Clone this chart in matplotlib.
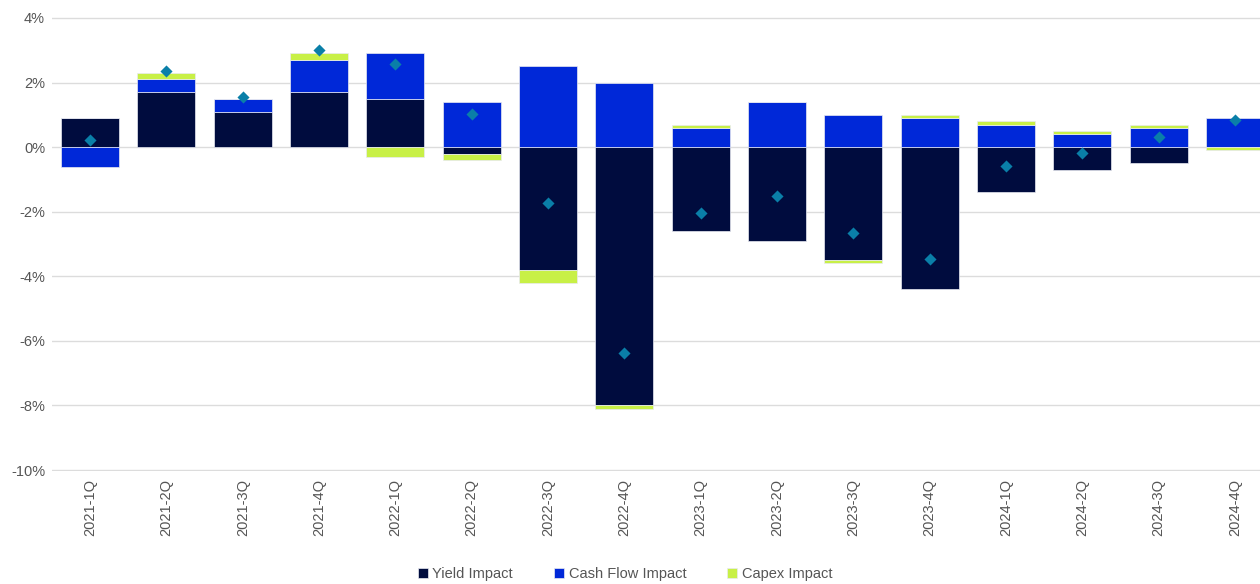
import numpy as np
import matplotlib.pyplot as plt
from matplotlib.ticker import FuncFormatter

quarters = ['2021-1Q', '2021-2Q', '2021-3Q', '2021-4Q',
            '2022-1Q', '2022-2Q', '2022-3Q', '2022-4Q',
            '2023-1Q', '2023-2Q', '2023-3Q', '2023-4Q',
            '2024-1Q', '2024-2Q', '2024-3Q', '2024-4Q']

yield_impact = [0.9, 1.7, 1.1, 1.7, 1.5, -0.2, -3.8, -8.0,
                -2.6, -2.9, -3.5, -4.4, -1.4, -0.7, -0.5, 0.0]
cashflow_impact = [-0.6, 0.4, 0.4, 1.0, 1.4, 1.4, 2.5, 2.0,
                   0.6, 1.4, 1.0, 0.9, 0.7, 0.4, 0.6, 0.9]
capex_impact = [0.0, 0.2, 0.0, 0.2, -0.3, -0.2, -0.4, -0.1,
                0.1, 0.0, -0.1, 0.1, 0.1, 0.1, 0.1, -0.1]
total = [0.22, 2.36, 1.55, 3.0, 2.58, 1.02, -1.74, -6.37,
         -2.05, -1.52, -2.67, -3.48, -0.59, -0.19, 0.32, 0.83]

c_yield = '#000C3E'
c_cf = '#0028D8'
c_capex = '#C8F046'
c_total = '#0A7FA8'
grey = '#555555'

plt.rcParams['font.family'] = ['Liberation Sans', 'DejaVu Sans']

fig = plt.figure(figsize=(12.6, 5.84), dpi=100)
ax = fig.add_axes([52 / 1260, 1 - 471 / 584, 1221 / 1260, 454 / 584])

x = np.arange(len(quarters))
w = 0.76

# stack positives up and negatives down separately
pos_base = np.zeros(len(x))
neg_base = np.zeros(len(x))
for vals, col, lab in [(yield_impact, c_yield, 'Yield Impact'),
                       (cashflow_impact, c_cf, 'Cash Flow Impact'),
                       (capex_impact, c_capex, 'Capex Impact')]:
    v = np.array(vals)
    bottom = np.where(v >= 0, pos_base, neg_base)
    ax.bar(x, v, w, bottom=bottom, color=col, label=lab,
           edgecolor='#E8EAF2', linewidth=0.5, zorder=2)
    pos_base = pos_base + np.where(v > 0, v, 0)
    neg_base = neg_base + np.where(v < 0, v, 0)

ax.scatter(x, total, marker='D', s=38, color=c_total, zorder=3, linewidths=0)

ax.set_xlim(-0.5, len(quarters) - 0.5)
ax.set_ylim(-10.03, 4.03)
ax.set_yticks(np.arange(-10, 5, 2))
ax.yaxis.set_major_formatter(FuncFormatter(lambda v, p: f'{v:.0f}%'))
ax.set_xticks(x)
ax.set_xticklabels(quarters, rotation=90)
ax.grid(axis='y', color='#DCDCDC', linewidth=1, zorder=0)
ax.set_axisbelow(True)
for s in ax.spines.values():
    s.set_visible(False)
ax.tick_params(axis='both', length=0, colors=grey, labelsize=10.5)
ax.tick_params(axis='y', pad=5)
ax.tick_params(axis='x', pad=6)

ax.legend(loc='lower center', bbox_to_anchor=(625 / 1260, -0.008), bbox_transform=fig.transFigure,
          ncol=3, frameon=False, fontsize=10.5, handlelength=0.7, handleheight=0.7,
          handletextpad=0.3, columnspacing=2.8, labelcolor=grey, borderaxespad=0.1)

plt.savefig('out.png', dpi=100)
